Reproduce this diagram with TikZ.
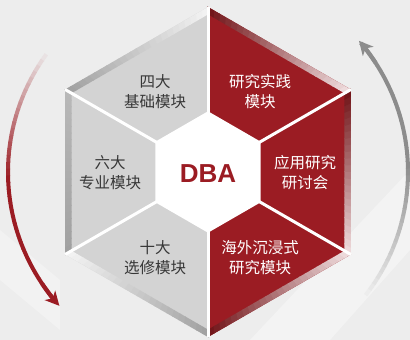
\documentclass[tikz,border=0pt]{standalone}
\usepackage{fontspec}
\setmainfont{Liberation Sans}
\newfontfamily\cjk{Noto Sans CJK SC}
\usetikzlibrary{calc,arrows.meta}
\definecolor{dbared}{RGB}{155,28,35}
\definecolor{dbadark}{RGB}{112,18,22}
\definecolor{segray}{RGB}{211,211,211}
\definecolor{bggray}{RGB}{237,237,237}
\definecolor{arcgray}{RGB}{140,140,140}
\definecolor{txtgray}{RGB}{55,55,55}
\definecolor{bevlight}{RGB}{244,244,244}
\definecolor{bevmid}{RGB}{185,185,185}
\definecolor{bevdark}{RGB}{160,160,160}
\definecolor{pinkw}{RGB}{240,222,223}
\newcommand\bevel[4]{%
  \foreach \j in {0,...,23}{%
    \pgfmathsetmacro\ta{\j/24}%
    \pgfmathsetmacro\tb{(\j+1.15)/24}%
    \pgfmathsetmacro\mix{100-(\j+0.5)*100/24}%
    \coordinate (pa) at ($(#1)!\ta!(#2)$);
    \coordinate (pb) at ($(#1)!\tb!(#2)$);
    \fill[#3!\mix!#4] (pa) -- (pb) -- ($(C)!0.955!(pb)$) -- ($(C)!0.955!(pa)$) -- cycle;
  }}
\tikzset{
  graytxt/.style={font=\cjk\fontsize{15.5}{20}\selectfont, text=txtgray, align=center},
  redtxt/.style={graytxt, text=white},
  sep/.style={white, line width=3pt},
  arcline/.style={line width=4pt}
}
\begin{document}
\begin{tikzpicture}[x=1pt,y=1pt]
\useasboundingbox (0,0) rectangle (410,340);
\fill[bggray] (0,0) rectangle (410,340);
\fill[white, opacity=0.35] (250,0) -- (330,0) -- (410,90) -- (410,170) -- cycle;
\fill[white, opacity=0.3] (0,60) -- (0,110) -- (60,60) -- (60,10) -- cycle;
\coordinate (C) at (208,168);
\foreach \a in {30,90,150,210,270,330}{
  \coordinate (O\a) at ($(C)+(\a:165)$);
  \coordinate (I\a) at ($(C)+(\a:59)$);
}
% sectors
\fill[segray] (O90) -- (O150) -- (I150) -- (I90) -- cycle;
\fill[segray] (O150) -- (O210) -- (I210) -- (I150) -- cycle;
\fill[segray] (O210) -- (O270) -- (I270) -- (I210) -- cycle;
\fill[dbared] (O270) -- (O330) -- (I330) -- (I270) -- cycle;
\fill[dbared] (O330) -- (O30) -- (I30) -- (I330) -- cycle;
\fill[dbared] (O30) -- (O90) -- (I90) -- (I30) -- cycle;
% bevels
\bevel{O90}{O150}{bevlight}{bevdark}
\bevel{O150}{O210}{bevmid}{bevdark}
\bevel{O210}{O270}{bevlight}{bevdark}
\bevel{O270}{O330}{dbadark}{pinkw}
\bevel{O330}{O30}{pinkw}{dbadark}
\bevel{O30}{O90}{pinkw}{dbadark}
% inner hexagon and separators
\fill[white] (I30) -- (I90) -- (I150) -- (I210) -- (I270) -- (I330) -- cycle;
\foreach \a in {30,90,150,210,270,330}{
  \draw[sep] (I\a) -- (O\a);
}
\draw[sep, line join=miter] (I30) -- (I90) -- (I150) -- (I210) -- (I270) -- (I330) -- cycle;
% texts
\node[graytxt] (t1) at (155,248) {四大\\基础模块};
\node[graytxt] (t2) at (110,167) {六大\\专业模块};
\node[graytxt] (t3) at (155,82) {十大\\选修模块};
\node[redtxt] (t4) at (260,248) {研究实践\\模块};
\node[redtxt] (t5) at (305,167) {应用研究\\研讨会};
\node[redtxt] (t6) at (260,82) {海外沉浸式\\研究模块};
\node[font=\bfseries\fontsize{26}{26}\selectfont, text=dbared] (dba) at (208,166) {DBA};
% left arc (red, fading in)
\foreach \i in {0,...,39}{
  \pgfmathsetmacro\aa{142+\i*1.95}
  \pgfmathsetmacro\ab{\aa+2.1}
  \pgfmathsetmacro\m{min(100,\i*100/20)}
  \draw[arcline, dbared!\m!bggray] ([shift={(C)}]\aa:200) arc[start angle=\aa, end angle=\ab, radius=200];
}
\draw[arcline, dbared, -{Stealth[length=14pt,width=14pt,inset=4pt]}] ([shift={(C)}]214:200) arc[start angle=214, end angle=222, radius=200];
% right arc (gray, fading in)
\foreach \i in {0,...,39}{
  \pgfmathsetmacro\aa{-38+\i*1.95}
  \pgfmathsetmacro\ab{\aa+2.1}
  \pgfmathsetmacro\m{min(100,\i*100/20)}
  \draw[arcline, arcgray!\m!bggray] ([shift={(C)}]\aa:200) arc[start angle=\aa, end angle=\ab, radius=200];
}
\draw[arcline, arcgray, -{Stealth[length=14pt,width=14pt,inset=4pt]}] ([shift={(C)}]33:200) arc[start angle=33, end angle=41, radius=200];
\end{tikzpicture}
\end{document}
